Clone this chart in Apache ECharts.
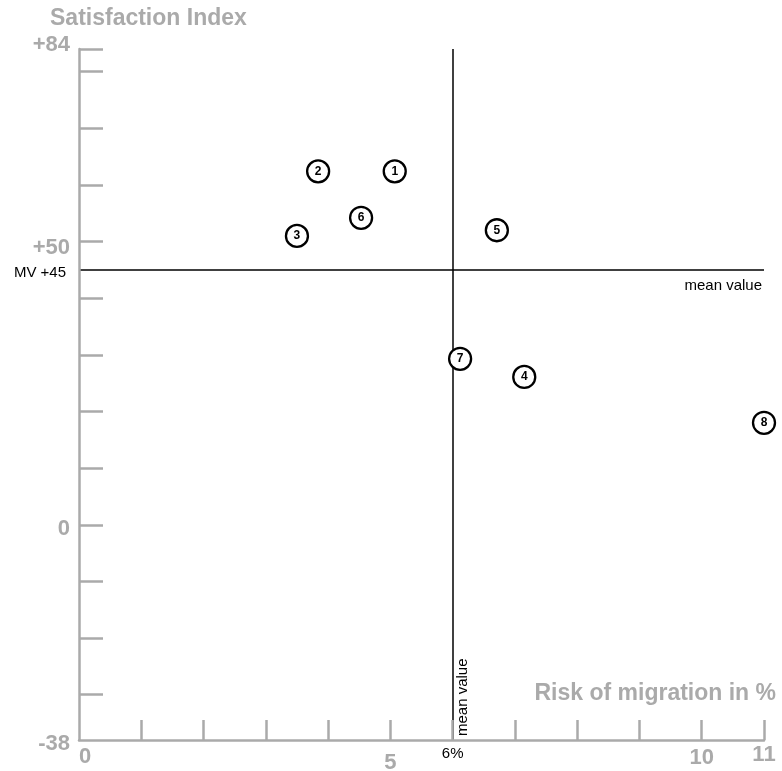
<!DOCTYPE html>
<html>
<head>
<meta charset="utf-8">
<script src="https://cdn.jsdelivr.net/npm/echarts@6/dist/echarts.min.js"></script>
<style>
html,body{margin:0;padding:0;background:#fff;}
#chart{width:782px;height:771px;}
</style>
</head>
<body>
<div id="chart"></div>
<script>
// ---- data ----
const pointIds = ['1', '2', '3', '4', '5', '6', '7', '8'];
const riskPct = [5.07, 3.84, 3.50, 7.15, 6.71, 4.53, 6.12, 11.0];
const satisfaction = [62.4, 62.4, 51.0, 26.1, 52.0, 54.2, 29.3, 18.0];
const meanRisk = 6;
const meanSatisfaction = 45;
const xTickValues = [1, 2, 3, 4, 5, 6, 7, 8, 9, 10, 11];
const xLabelValues = [0, 5, 6, 10, 11];
const xLabelTexts = ['0', '5', '6%', '10', '11'];
const yTickValues = [-30, -20, -10, 0, 10, 20, 30, 40, 50, 60, 70, 80, 84];
const yLabelValues = [84, 50, 45, 0, -38];
const yLabelTexts = ['+84', '+50', 'MV +45', '0', '-38'];
const xTitle = 'Risk of migration in %';
const yTitle = 'Satisfaction Index';
const meanLabel = 'mean value';

// ---- chart ----
const GRAY = '#aaaaaa';
const FONT = '"Liberation Sans", Arial, Helvetica, sans-serif';
const chart = echarts.init(document.getElementById('chart'), null, {renderer: 'canvas'});

const bold = {fontFamily: FONT, fontSize: 22, fontWeight: 'bold', color: GRAY};
const small = {fontFamily: FONT, fontSize: 15, fontWeight: 'normal', color: '#000'};

const xRich = {
  x0: Object.assign({}, bold, {padding: [2, 0, 0, 12]}),
  x1: Object.assign({}, bold, {padding: [8, 0, 0, 0]}),
  x2: Object.assign({}, small, {padding: [2, 0, 0, 0]}),
  x3: Object.assign({}, bold, {padding: [3, 0, 0, 0]}),
  x4: Object.assign({}, bold, {padding: [0, 0, 0, 0]})
};
const yRich = {
  y0: Object.assign({}, bold, {padding: [0, 0, 8, 0]}),
  y1: Object.assign({}, bold, {padding: [12, 0, 0, 0]}),
  y2: Object.assign({}, small, {padding: [5, 4, 0, 0]}),
  y3: Object.assign({}, bold, {padding: [9, 0, 0, 0]}),
  y4: Object.assign({}, bold, {padding: [8, 0, 0, 0]})
};

const option = {
  animation: false,
  backgroundColor: '#fff',
  title: [
    {text: yTitle, left: 50, top: 7, padding: 0,
     textStyle: {fontFamily: FONT, fontSize: 23, fontWeight: 'bold', color: GRAY}},
    {text: xTitle, right: 6, top: 682, padding: 0,
     textStyle: {fontFamily: FONT, fontSize: 23, fontWeight: 'bold', color: GRAY}}
  ],
  grid: {left: 79, right: 18, top: 49, bottom: 31, containLabel: false, outerBoundsMode: 'none'},
  xAxis: {
    type: 'value', min: 0, max: 11, interval: 1, z: 5,
    splitLine: {show: false},
    axisLine: {show: true, onZero: false, lineStyle: {color: GRAY, width: 2.5}},
    axisTick: {show: true, inside: true, length: 20, customValues: xTickValues,
               lineStyle: {color: GRAY, width: 2.5}},
    axisLabel: {
      show: true, margin: 4, customValues: xLabelValues,
      formatter: function (v) {
        const i = xLabelValues.indexOf(v);
        return i < 0 ? '' : '{x' + i + '|' + xLabelTexts[i] + '}';
      },
      rich: xRich
    }
  },
  yAxis: {
    type: 'value', min: -38, max: 84, z: 5,
    splitLine: {show: false},
    axisLine: {show: true, onZero: false, lineStyle: {color: GRAY, width: 2.5}},
    axisTick: {show: true, inside: true, length: 24, customValues: yTickValues,
               lineStyle: {color: GRAY, width: 2.5}},
    axisLabel: {
      show: true, margin: 9, customValues: yLabelValues,
      formatter: function (v) {
        const i = yLabelValues.indexOf(v);
        return i < 0 ? '' : '{y' + i + '|' + yLabelTexts[i] + '}';
      },
      rich: yRich
    }
  },
  series: [{
    type: 'scatter',
    clip: false,
    z: 4,
    symbol: 'circle',
    symbolSize: 22,
    data: riskPct.map(function (x, i) { return [x, satisfaction[i], pointIds[i]]; }),
    itemStyle: {color: '#fff', borderColor: '#000', borderWidth: 2.3, opacity: 1},
    label: {
      show: true, position: 'inside',
      formatter: function (p) { return p.value[2]; },
      fontFamily: FONT, fontSize: 12, fontWeight: 'bold', color: '#000'
    },
    emphasis: {disabled: true},
    markLine: {
      silent: true,
      symbol: ['none', 'none'],
      z: 2,
      lineStyle: {color: '#000', width: 1.5, type: 'solid'},
      data: [
        {yAxis: meanSatisfaction,
         label: {show: true, formatter: meanLabel, position: 'insideEndBottom',
                 distance: [2, 8], fontFamily: FONT, fontSize: 15, color: '#000'}},
        {xAxis: meanRisk,
         label: {show: true, formatter: meanLabel, position: 'insideStartBottom',
                 distance: [4, 3], fontFamily: FONT, fontSize: 15, color: '#000'}}
      ]
    }
  }]
};
chart.setOption(option);
</script>
</body>
</html>
